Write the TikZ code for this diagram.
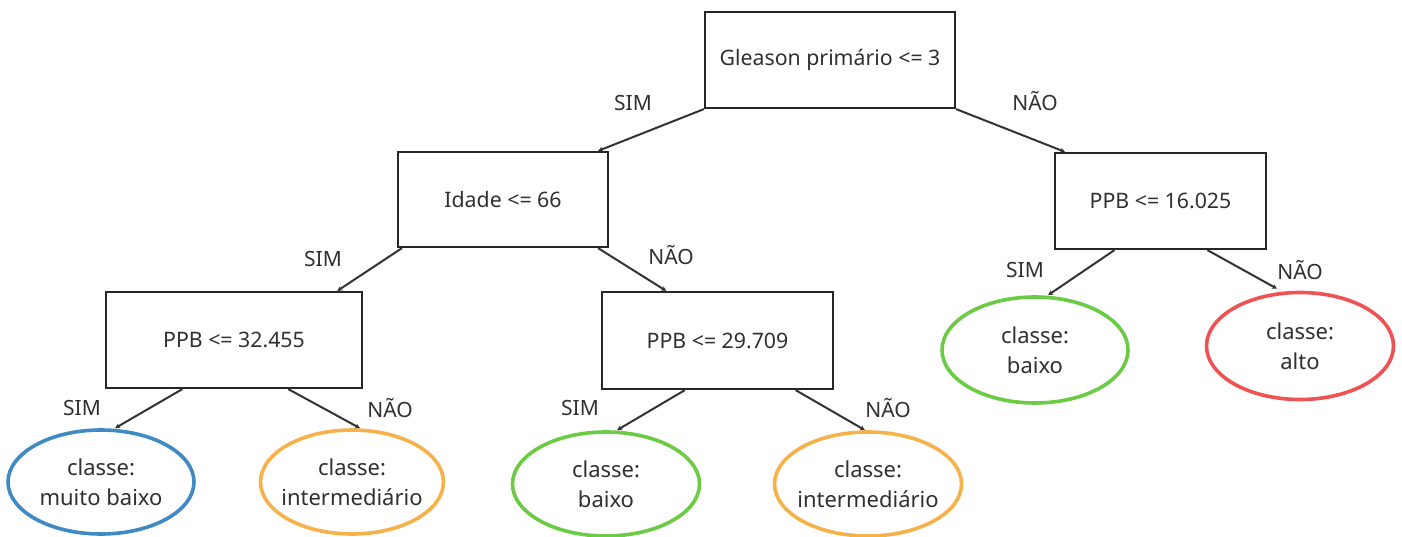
\documentclass[tikz,border=0pt]{standalone}
\usepackage{fontspec}
\setmainfont{Noto Sans}
\usetikzlibrary{shapes.geometric,calc,arrows.meta}
\definecolor{cblue}{HTML}{3F8AC2}
\definecolor{corange}{HTML}{F7B14A}
\definecolor{cgreen}{HTML}{6CCB44}
\definecolor{cred}{HTML}{EF5252}
\definecolor{ctext}{HTML}{303030}
\tikzset{
  box/.style={draw=black!85, line width=2.2pt, rectangle, inner sep=0pt, text=ctext, font=\fontsize{21.3}{24}\selectfont},
  leaf/.style={ellipse, line width=3.6pt, inner xsep=-15pt, inner ysep=-10pt, text=ctext, align=center, font=\fontsize{22}{30}\selectfont},
  lbl/.style={text=ctext, inner sep=0pt, font=\fontsize{21}{24}\selectfont},
  edge/.style={draw=black!80, line width=2pt, -{Stealth[length=5pt,width=5pt]}}
}
\begin{document}
\begin{tikzpicture}[x=1pt,y=-1pt]
\useasboundingbox (0,0) rectangle (1402,537);
\fill[white] (0,0) rectangle (1402,537);
% decision boxes
\node[box, minimum width=250pt, minimum height=96pt] (root) at (830,60) {Gleason primário <= 3};
\node[box, minimum width=210pt, minimum height=95pt] (idade) at (503,199.5) {Idade <= 66};
\node[box, minimum width=211pt, minimum height=96pt] (r) at (1160.5,201) {PPB <= 16.025};
\node[box, minimum width=256pt, minimum height=96pt] (p1) at (234,340) {PPB <= 32.455};
\node[box, minimum width=231pt, minimum height=97pt] (p2) at (717.5,340.5) {PPB <= 29.709};
% leaves
\node[leaf, draw=cblue, minimum width=186pt, minimum height=104pt] (e1) at (101,482) {classe:\\muito baixo};
\node[leaf, draw=corange, minimum width=183pt, minimum height=104pt] (e2) at (352,482) {classe:\\intermediário};
\node[leaf, draw=cgreen, minimum width=187pt, minimum height=104pt] (e3) at (606,484) {classe:\\baixo};
\node[leaf, draw=corange, minimum width=187pt, minimum height=104pt] (e4) at (868,484) {classe:\\intermediário};
\node[leaf, draw=cgreen, minimum width=186pt, minimum height=106pt] (e5) at (1035,350) {classe:\\baixo};
\node[leaf, draw=cred, minimum width=187pt, minimum height=107pt] (e6) at (1300,346) {classe:\\alto};
% edges
\draw[edge] (root.south west) -- ($(idade.north west)!0.948!(idade.north east)$);
\draw[edge] (root.south east) -- ($(r.north west)!0.052!(r.north east)$);
\draw[edge] ($(idade.south west)!0.024!(idade.south east)$) -- ($(p1.north west)!0.90!(p1.north east)$);
\draw[edge] ($(idade.south west)!0.948!(idade.south east)$) -- ($(p2.north west)!0.28!(p2.north east)$);
\draw[edge] ($(p1.south west)!0.30!(p1.south east)$) -- ([xshift=14pt]e1.north);
\draw[edge] ($(p1.south west)!0.71!(p1.south east)$) -- ([xshift=8pt]e2.north);
\draw[edge] ($(p2.south west)!0.36!(p2.south east)$) -- ([xshift=11pt]e3.north);
\draw[edge] ($(p2.south west)!0.835!(p2.south east)$) -- ([xshift=-3pt]e4.north);
\draw[edge] ($(r.south west)!0.284!(r.south east)$) -- ([xshift=13pt]e5.north);
\draw[edge] ($(r.south west)!0.72!(r.south east)$) -- ([xshift=-23pt,yshift=2pt]e6.north);
% labels
\node[lbl] (l1) at (633,103) {SIM};
\node[lbl] (l2) at (1035,101) {NÃO};
\node[lbl] (l3) at (323,259) {SIM};
\node[lbl] (l4) at (671,255) {NÃO};
\node[lbl] (l5) at (82,408) {SIM};
\node[lbl] (l6) at (390,408) {NÃO};
\node[lbl] (l7) at (580,408) {SIM};
\node[lbl] (l8) at (888,408) {NÃO};
\node[lbl] (l9) at (1025,270) {SIM};
\node[lbl] (l10) at (1300,270) {NÃO};
\end{tikzpicture}
\end{document}
